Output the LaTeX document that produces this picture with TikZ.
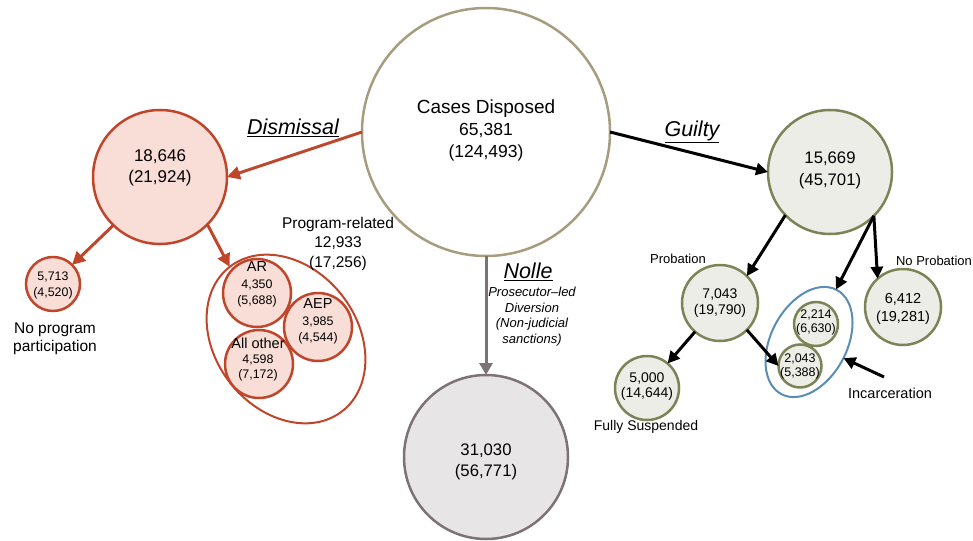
\documentclass[tikz,border=0pt]{standalone}
\usepackage{fontspec}
\setmainfont{Liberation Sans}
\usetikzlibrary{arrows.meta,shapes.geometric}
\definecolor{dred}{HTML}{C0462B}
\definecolor{dfill}{HTML}{F9DED7}
\definecolor{khaki}{HTML}{A69D7F}
\definecolor{olive}{HTML}{7B8456}
\definecolor{ofill}{HTML}{EDEDE7}
\definecolor{gry}{HTML}{7D7376}
\definecolor{gfill}{HTML}{E8E5E6}
\definecolor{blu}{HTML}{5A8DB3}
\newcommand{\fs}[2]{\fontsize{#1}{#2}\selectfont}
\tikzset{
  bub/.style={circle, draw, line width=2.5pt, inner sep=0pt, outer sep=0pt, minimum size=#1},
  redb/.style={bub=#1, draw=dred, fill=dfill},
  oliveb/.style={bub=#1, draw=olive, fill=ofill},
  txt/.style={align=center, inner sep=0pt, text=black},
  redarrow/.style={draw=dred, line width=3pt, -{Triangle[length=13pt,width=13pt]}},
  blackarrow/.style={draw=black, line width=3pt, -{Triangle[length=12pt,width=12pt]}},
  greyarrow/.style={draw=gry, line width=3pt, -{Triangle[length=12pt,width=13pt]}},
  branch/.style={txt, font=\itshape\fs{21.5}{24}},
}
\begin{document}
\begin{tikzpicture}[x=1pt,y=-1pt]
\useasboundingbox (0,0) rectangle (973,540);
% main
\node[bub=248pt, draw=khaki, fill=white] (main) at (486,132) {};
\node[txt, font=\fs{17.5}{22}] (main-t) at (486,130) {{\fs{19}{22}Cases Disposed}\\65,381\\(124,493)};
% dismissal branch
\node[redb=134pt] (dis) at (160,177) {};
\node[txt, font=\fs{17}{21}] (dis-t) at (160,168) {18,646\\(21,924)};
\node[redb=54pt] (nop) at (53,284) {};
\node[txt, font=\fs{12.4}{16}] (nop-t) at (53,285) {5,713\\(4,520)};
\node[txt, font=\fs{15.5}{18.5}] (nop-l) at (55,339) {No program\\participation};
\node[ellipse, draw=dred, line width=2pt, inner sep=0pt, outer sep=0pt, minimum width=142pt, minimum height=183pt, rotate=38] (prog) at (286,339) {};
\node[redb=68pt] (ar) at (257,293) {};
\node[redb=68pt] (aep) at (318,327) {};
\node[redb=68pt] (allo) at (259,364) {};
\node[txt, font=\fs{12.4}{16.5}] (ar-t) at (257,284.5) {{\fs{14.5}{16.5}AR}\\4,350\\(5,688)};
\node[txt, font=\fs{12.4}{16.5}] (aep-t) at (318,321.5) {{\fs{14.5}{16.5}AEP}\\3,985\\(4,544)};
\node[txt, font=\fs{12.4}{15}] (allo-t) at (258,360) {{\fs{14.5}{15}All other}\\4,598\\(7,172)};
\node[txt, font=\fs{15.5}{19.5}] (prog-l) at (338,243.5) {Program-related\\12,933\\(17,256)};
\node[branch] (dis-l) at (293,128) {\underline{Dismissal}};
% nolle branch
\node[bub=164pt, draw=gry, fill=gfill] (nolle) at (486,457) {};
\node[txt, font=\fs{16.7}{21}] (nolle-t) at (486,461.5) {31,030\\(56,771)};
\node[branch] (nolle-l) at (528,272) {\underline{Nolle}};
\node[txt, font=\itshape\fs{13}{15.7}] (nolle-s) at (532,316.5) {Prosecutor--led\\Diversion\\(Non-judicial\\sanctions)};
% guilty branch
\node[oliveb=124pt] (guilty) at (830,172) {};
\node[txt, font=\fs{16.7}{22}] (guilty-t) at (830,170) {15,669\\(45,701)};
\node[branch] (guilty-l) at (692,132) {\underline{Guilty}};
\node[oliveb=76pt] (prob) at (720,303) {};
\node[txt, font=\fs{14}{16}] (prob-t) at (720,303) {7,043\\(19,790)};
\node[txt, font=\fs{13}{15}] (prob-l) at (678,259) {Probation};
\node[oliveb=76pt] (noprob) at (903,307) {};
\node[txt, font=\fs{14.5}{18}] (noprob-t) at (903,309) {6,412\\(19,281)};
\node[txt, font=\fs{13}{15}] (noprob-l) at (934,261) {No Probation};
\node[oliveb=64pt] (fsus) at (647,388) {};
\node[txt, font=\fs{14}{15.5}] (fsus-t) at (647,386.5) {5,000\\(14,644)};
\node[txt, font=\fs{14}{16}] (fsus-l) at (646,427) {Fully Suspended};
\node[ellipse, draw=blu, line width=2pt, inner sep=0pt, outer sep=0pt, minimum width=76pt, minimum height=118pt, rotate=-28] (incarc) at (809,342) {};
\node[oliveb=44pt] (ca) at (816,324) {};
\node[txt, font=\fs{12.5}{14}] (ca-t) at (816,322) {2,214\\(6,630)};
\node[oliveb=43pt] (cb) at (800,366) {};
\node[txt, font=\fs{12.5}{14}] (cb-t) at (800,366) {2,043\\(5,388)};
\node[txt, font=\fs{14.5}{16}] (inc-l) at (890,393) {Incarceration};
\coordinate (incfrom) at (884,377);
% connectors
\draw[redarrow] (main.180) -- (dis.0);
\draw[redarrow] (dis.226) -- (nop.45);
\draw[redarrow] (dis.315) -- (prog.north);
\draw[greyarrow] (main.south) -- (nolle.north);
\draw[blackarrow] (main.0) -- (guilty.180);
\draw[blackarrow] (guilty.224) -- (prob.45);
\draw[blackarrow] (guilty.315) -- (incarc);
\draw[blackarrow] (guilty.315) -- (noprob.132);
\draw[blackarrow] (prob.229) -- (fsus.50);
\draw[blackarrow] (prob.315) -- (cb.west);
\draw[blackarrow] (incfrom) -- (incarc);
\end{tikzpicture}
\end{document}
